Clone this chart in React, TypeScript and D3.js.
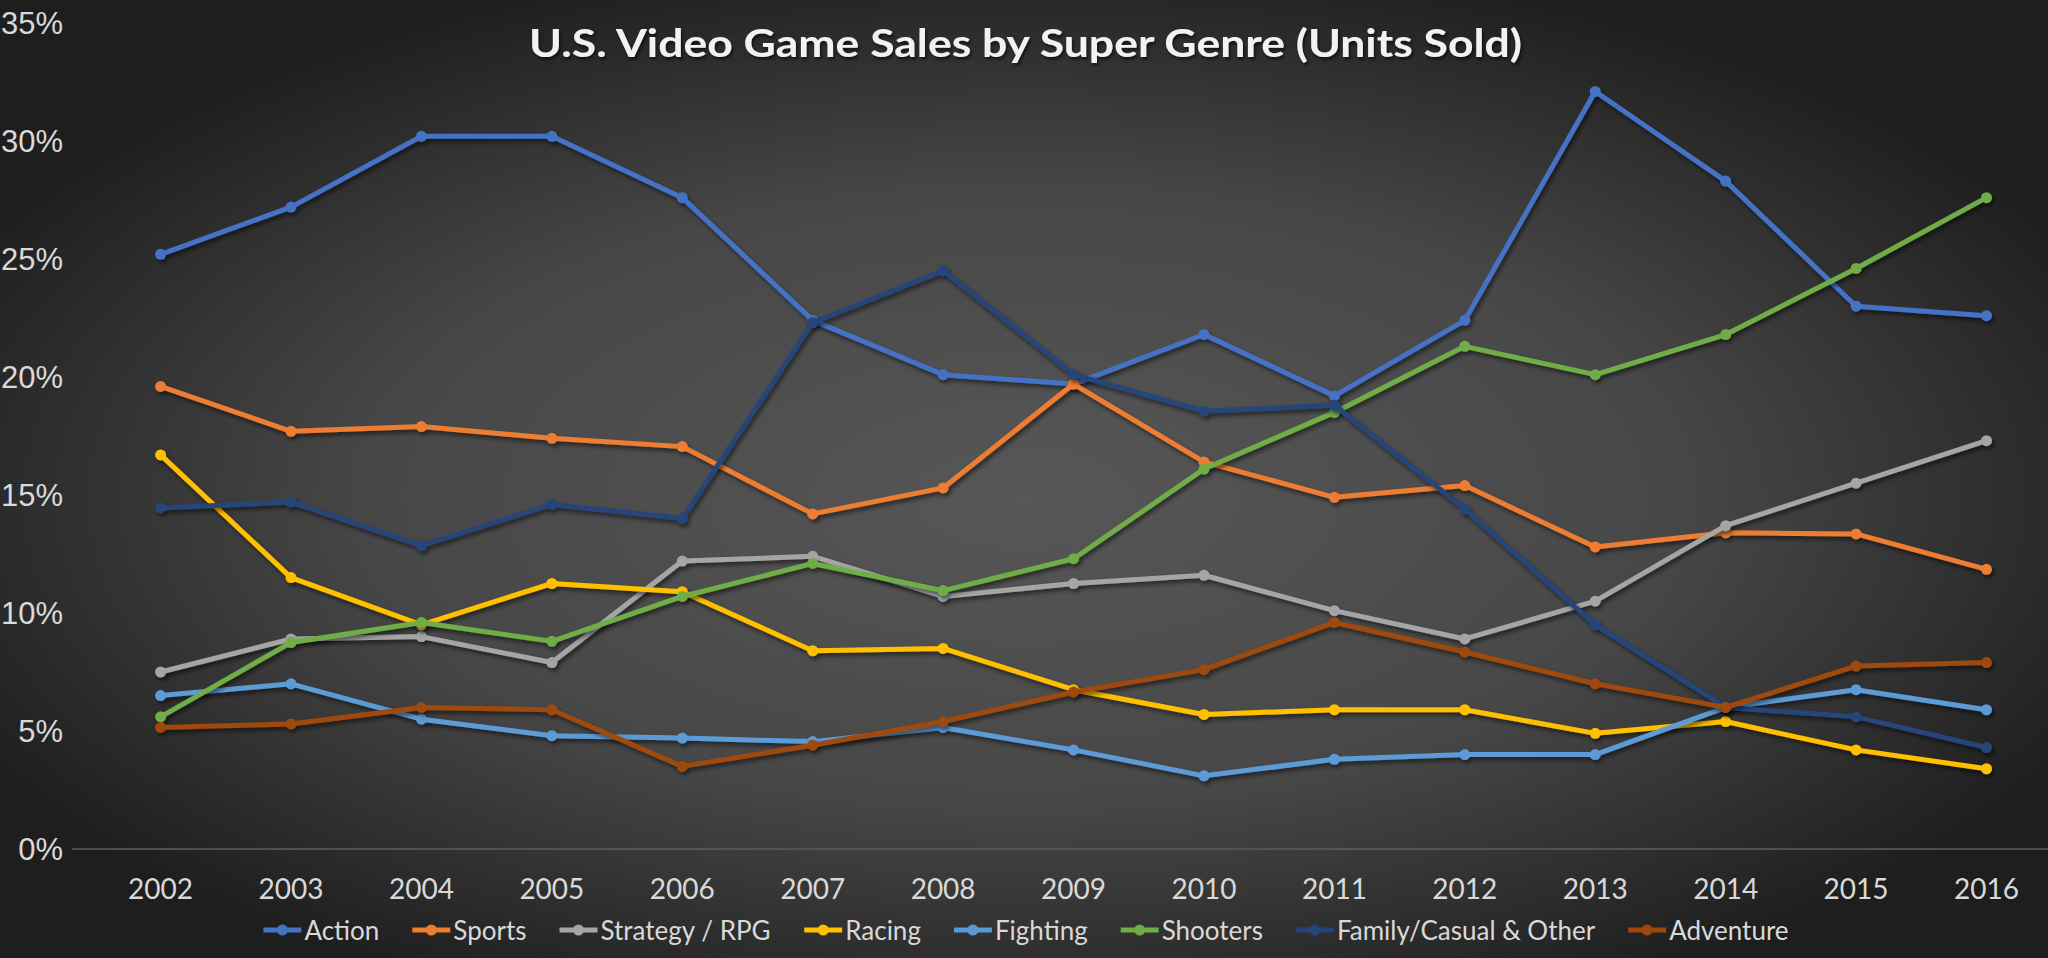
import React, { useMemo } from "react";
import * as d3 from "d3";

const years = ["2002","2003","2004","2005","2006","2007","2008","2009","2010","2011","2012","2013","2014","2015","2016"];
const yTicks = [0, 5, 10, 15, 20, 25, 30, 35];

const action = [25.2, 27.2, 30.2, 30.2, 27.6, 22.4, 20.1, 19.7, 21.8, 19.2, 22.4, 32.1, 28.3, 23.0, 22.6];
const sports = [19.6, 17.7, 17.9, 17.4, 17.05, 14.2, 15.3, 19.7, 16.4, 14.9, 15.4, 12.8, 13.4, 13.35, 11.85];
const strategy = [7.5, 8.9, 9.0, 7.9, 12.2, 12.4, 10.7, 11.25, 11.6, 10.1, 8.9, 10.5, 13.7, 15.5, 17.3];
const racing = [16.7, 11.5, 9.5, 11.25, 10.9, 8.4, 8.5, 6.75, 5.7, 5.9, 5.9, 4.9, 5.4, 4.2, 3.4];
const fighting = [6.5, 7.0, 5.5, 4.8, 4.7, 4.55, 5.15, 4.2, 3.1, 3.8, 4.0, 4.0, 6.0, 6.75, 5.9];
const shooters = [5.6, 8.75, 9.6, 8.8, 10.7, 12.1, 10.95, 12.3, 16.1, 18.5, 21.3, 20.1, 21.8, 24.6, 27.6];
const family = [14.45, 14.7, 12.85, 14.6, 14.0, 22.3, 24.5, 20.1, 18.55, 18.8, 14.4, 9.5, 6.0, 5.6, 4.3];
const adventure = [5.15, 5.3, 6.0, 5.9, 3.5, 4.4, 5.4, 6.65, 7.6, 9.6, 8.35, 7.0, 6.0, 7.75, 7.9];

const seriesNames = ["Action", "Sports", "Strategy / RPG", "Racing", "Fighting", "Shooters", "Family/Casual & Other", "Adventure"];
const seriesValues = [action, sports, strategy, racing, fighting, shooters, family, adventure];
const seriesColors = ["#4472C4", "#ED7D31", "#A5A5A5", "#FFC000", "#5B9BD5", "#70AD47", "#264478", "#9E480E"];

const W = 2048;
const H = 958;
const LEGEND_SIZE = 26;

export default function App() {
  if (typeof document !== "undefined") {
    document.body.style.margin = "0";
    document.body.style.background = "#222";
  }
  const x = d3.scalePoint<string>().domain(years).range([160.6, 1986.5]);
  const y = d3.scaleLinear().domain([0, 35]).range([849, 23]);
  const line = d3
    .line<number>()
    .x((_, i) => x(years[i]) as number)
    .y((d) => y(d));

  const legend = useMemo(() => {
    const canvas = document.createElement("canvas");
    const ctx = canvas.getContext("2d")!;
    ctx.font = `${LEGEND_SIZE}px Lato`;
    const markerW = 38;
    const textGap = 3;
    const itemGap = 33;
    const widths = seriesNames.map((n) => ctx.measureText(n).width);
    const total =
      widths.reduce((a, b) => a + b, 0) + seriesNames.length * (markerW + textGap) + (seriesNames.length - 1) * itemGap;
    let cx = 1026 - total / 2;
    return seriesNames.map((n, i) => {
      const item = { name: n, x: cx, color: seriesColors[i], markerW, textX: cx + markerW + textGap };
      cx += markerW + textGap + widths[i] + itemGap;
      return item;
    });
  }, []);

  return (
    <svg width={W} height={H} style={{ display: "block" }}>
      <defs>
        <radialGradient id="bg" cx="50%" cy="52%" r="58%" gradientUnits="objectBoundingBox">
          <stop offset="0%" stopColor="#575757" />
          <stop offset="55%" stopColor="#474747" />
          <stop offset="100%" stopColor="#1e1e1e" />
        </radialGradient>
        <filter id="shadow" x="-5%" y="-5%" width="110%" height="120%">
          <feDropShadow dx="2" dy="3" stdDeviation="2" floodColor="#000" floodOpacity="0.55" />
        </filter>
        <filter id="tshadow" x="-5%" y="-20%" width="110%" height="160%">
          <feDropShadow dx="1.5" dy="2.5" stdDeviation="1.5" floodColor="#000" floodOpacity="0.6" />
        </filter>
      </defs>
      <rect x={0} y={0} width={W} height={H} fill="url(#bg)" />

      <line x1={72} x2={2048} y1={y(0)} y2={y(0)} stroke="#5e5e5e" strokeWidth={1.5} />

      {yTicks.map((t) => (
        <text
          key={t}
          x={63}
          y={y(t)}
          textAnchor="end"
          dominantBaseline="central"
          fontFamily="'Liberation Sans', Arial, sans-serif"
          fontSize={31}
          fill="#d9d9d9"
        >
          {t}%
        </text>
      ))}

      {years.map((yr) => (
        <text
          key={yr}
          x={x(yr)}
          y={888}
          textAnchor="middle"
          dominantBaseline="central"
          fontFamily="Lato, sans-serif"
          fontSize={28}
          fill="#d9d9d9"
        >
          {yr}
        </text>
      ))}

      <text
        x={1025.5}
        y={42}
        textAnchor="middle"
        dominantBaseline="central"
        fontFamily="Lato, sans-serif"
        fontWeight={700}
        fontSize={39}
        fill="#f2f2f2"
        textLength={993}
        lengthAdjust="spacingAndGlyphs"
        filter="url(#tshadow)"
      >
        U.S. Video Game Sales by Super Genre (Units Sold)
      </text>

      {seriesValues.map((vals, si) => (
        <g key={seriesNames[si]} filter="url(#shadow)">
          <path d={line(vals) || ""} fill="none" stroke={seriesColors[si]} strokeWidth={5} strokeLinejoin="round" />
          {vals.map((v, i) => (
            <circle key={i} cx={x(years[i])} cy={y(v)} r={5.5} fill={seriesColors[si]} />
          ))}
        </g>
      ))}

      {legend.map((it) => (
        <g key={it.name}>
          <line x1={it.x} x2={it.x + it.markerW} y1={930} y2={930} stroke={it.color} strokeWidth={5} />
          <circle cx={it.x + it.markerW / 2} cy={930} r={5.5} fill={it.color} />
          <text
            x={it.textX}
            y={930}
            dominantBaseline="central"
            fontFamily="Lato, sans-serif"
            fontSize={LEGEND_SIZE}
            fill="#d9d9d9"
          >
            {it.name}
          </text>
        </g>
      ))}
    </svg>
  );
}
